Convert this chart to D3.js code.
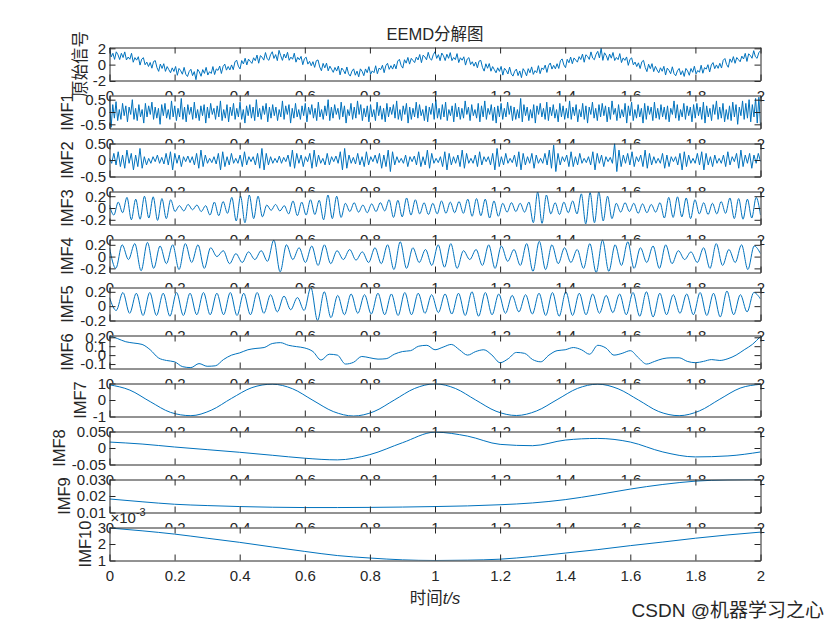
<!DOCTYPE html>
<html><head><meta charset="utf-8">
<script src="https://cdn.jsdelivr.net/npm/d3@7"></script>
<style>
body{margin:0;background:#fff}
svg{display:block}
text{font-family:"Liberation Sans",Arial,"Noto Sans CJK SC",sans-serif;fill:#262626}
</style></head>
<body><svg id="c" width="840" height="630"></svg>
<script>
// ---------------- data ----------------
const tMax = 2;
const xTicks = [0,0.2,0.4,0.6,0.8,1,1.2,1.4,1.6,1.8,2];
const titleText = "EEMD分解图";
const rowLabels = ["原始信号","IMF1","IMF2","IMF3","IMF4","IMF5","IMF6","IMF7","IMF8","IMF9","IMF10"];

const rawSignal = [
2.05,0.95,1.39,0.64,1.57,1.21,0.62,1.39,0.87,1.56,0.57,0.93,
0.66,1.39,0.29,0.86,0.55,0.97,-0.06,0.67,0.85,-0.02,0.31,-0.23,
0.26,-0.44,0.38,0.49,-0.37,-0.83,0.07,-0.47,0.11,-0.83,-0.24,-0.62,
-1.0,-0.4,-0.84,-0.23,-1.31,-0.47,-0.75,-1.18,-0.34,-1.18,-1.46,-0.85,
-0.57,-1.35,-0.86,-1.85,-0.58,-0.89,-1.43,-0.61,-1.08,-0.34,-1.28,-0.87,
-1.09,-0.24,-1.22,-0.53,-0.71,-0.18,-1.09,-0.23,0.06,-0.68,-0.23,-0.65,
-0.04,-0.62,0.33,0.55,-0.19,-0.53,0.5,0.08,0.78,-0.04,0.67,0.41,
0.15,0.84,0.48,1.17,0.17,1.1,0.91,0.55,1.48,0.72,0.53,1.21,
1.58,0.76,1.23,0.49,1.75,1.1,0.52,1.3,0.81,1.51,0.53,0.92,
0.66,1.4,0.3,0.89,0.59,1.01,-0.01,0.73,0.91,0.06,0.4,-0.14,
0.36,-0.34,0.48,0.57,-0.29,-0.75,0.15,-0.4,0.18,-0.76,-0.19,-0.57,
-0.95,-0.35,-0.79,-0.18,-1.26,-0.42,-0.7,-1.13,-0.29,-1.13,-1.41,-0.8,
-0.52,-1.3,-0.8,-1.5,-0.52,-0.82,-1.36,-0.53,-0.99,-0.25,-1.19,-0.77,
-0.99,-0.14,-1.12,-0.43,-0.61,-0.08,-0.99,-0.13,0.16,-0.58,-0.13,-0.55,
0.06,-0.52,0.43,0.65,-0.09,-0.43,0.6,0.18,0.88,0.06,0.77,0.51,
0.25,0.93,0.57,1.24,0.24,1.16,0.96,0.59,1.51,0.75,0.55,1.22,
1.58,0.76,1.22,0.48,1.42,1.08,0.5,1.27,0.77,1.47,0.49,0.87,
0.61,1.35,0.25,0.84,0.54,0.96,-0.06,0.68,0.86,0.01,0.35,-0.19,
0.31,-0.39,0.43,0.52,-0.34,-0.8,0.1,-0.45,0.13,-0.81,-0.24,-0.62,
-1.0,-0.39,-0.83,-0.22,-1.29,-0.45,-0.72,-1.15,-0.31,-1.14,-1.41,-0.81,
-0.55,-1.35,-0.78,-1.6,-0.5,-0.85,-1.38,-0.5,-1.0,-0.28,-1.2,-0.74,
-0.99,-0.13,-1.11,-0.42,-0.6,-0.06,-0.96,-0.1,0.2,-0.55,-0.09,-0.51,
0.11,-0.47,0.48,0.7,-0.04,-0.38,0.65,0.23,0.93,0.11,0.82,0.56,
0.3,0.98,0.62,1.29,0.29,1.21,1.01,0.64,1.56,0.8,0.6,1.27,
1.63,0.81,2.0,0.52,1.45,1.11,0.52,1.3,0.79,1.49,0.5,0.88,
0.61,1.35,0.25,0.82,0.52,0.94,-0.09,0.65,0.83,-0.03,0.31,-0.24,
0.22,-0.48,0.35,0.52,-0.35,-0.86,0.05,-0.5,0.12,-0.86,-0.22,-0.66,
-1.0,-0.39,-0.82,-0.21,-1.28,-0.43,-0.7,-1.12,-0.27,-1.1,-1.37,-0.76,
-0.47,-1.25,-0.75,-1.45,-0.47,-0.77,-1.31,-0.48,-0.94,-0.2,-1.14,-0.72,
-0.94,-0.08,-1.06,-0.37,-0.55,-0.01,-0.91,-0.05,0.25,-0.5,-0.04,-0.46,
0.16,-0.42,0.53,0.75,0.01,-0.33,0.7,0.28,0.98,0.16,0.87,0.61,
0.35,1.04,0.69,1.38,0.39,1.32,1.13,0.78,1.71,0.96,0.77,1.46,
1.7
];

const imf1 = [
0.45,-0.62,0.3,-0.25,0.42,-0.35,0.1,-0.3,0.35,-0.15,0.25,-0.4,0.2,-0.1,0.5,-0.3,0.15,-0.35,0.3,-0.2,
0.1,-0.45,0.35,-0.2,0.25,-0.1,0.4,-0.3,0.2,-0.25,0.15,-0.5,0.3,-0.15,0.35,-0.25,0.1,-0.3,0.45,-0.2,
0.25,-0.35,0.15,-0.2,0.55,-0.3,0.2,-0.4,0.3,-0.1,0.2,-0.3,0.4,-0.25,0.1,-0.35,0.25,-0.15,0.3,-0.45,
0.2,-0.25,0.35,-0.1,0.15,-0.3,0.25,-0.2,0.45,-0.35,0.1,-0.25,0.3,-0.4,0.2,-0.15,0.35,-0.3,0.15,-0.2,
0.4,-0.3,0.1,-0.45,0.25,-0.15,0.3,-0.25,0.2,-0.35,0.5,-0.2,0.15,-0.3,0.25,-0.1,0.35,-0.4,0.2,-0.25,
0.3,-0.15,0.2,-0.35,0.1,-0.2,0.45,-0.3,0.25,-0.1,0.3,-0.45,0.15,-0.25,0.35,-0.2,0.1,-0.3,0.25,-0.15,
0.35,-0.4,0.2,-0.1,0.3,-0.25,0.15,-0.35,0.4,-0.2,0.1,-0.3,0.25,-0.15,0.5,-0.35,0.2,-0.25,0.3,-0.1,
0.15,-0.3,0.4,-0.2,0.25,-0.45,0.1,-0.15,0.35,-0.3,0.2,-0.25,0.45,-0.1,0.3,-0.35,0.15,-0.2,0.25,-0.4,
0.3,-0.2,0.1,-0.35,0.4,-0.15,0.25,-0.3,0.15,-0.4,0.35,-0.2,0.2,-0.1,0.3,-0.25,0.45,-0.3,0.1,-0.35,
0.25,-0.1,0.35,-0.45,0.2,-0.3,0.15,-0.2,0.4,-0.25,0.3,-0.15,0.1,-0.35,0.25,-0.4,0.2,-0.1,0.35,-0.3,
0.5,-0.25,0.15,-0.3,0.3,-0.2,0.4,-0.35,0.1,-0.15,0.25,-0.4,0.35,-0.2,0.2,-0.3,0.15,-0.25,0.45,-0.1,
0.2,-0.35,0.3,-0.15,0.1,-0.25,0.35,-0.4,0.25,-0.2,0.45,-0.3,0.15,-0.1,0.3,-0.35,0.2,-0.45,0.25,-0.2,
0.35,-0.3,0.15,-0.2,0.4,-0.1,0.25,-0.35,0.2,-0.3,0.1,-0.25,0.55,-0.4,0.3,-0.15,0.2,-0.35,0.1,-0.25,
0.3,-0.45,0.25,-0.1,0.35,-0.2,0.15,-0.3,0.4,-0.35,0.2,-0.15,0.3,-0.25,0.1,-0.4,0.35,-0.2,0.25,-0.3,
0.15,-0.25,0.45,-0.3,0.2,-0.15,0.3,-0.4,0.1,-0.2,0.35,-0.3,0.25,-0.45,0.2,-0.1,0.4,-0.25,0.15,-0.35,
0.3,-0.2,0.35,-0.15,0.25,-0.4,0.2,-0.3,0.45,-0.1,0.15,-0.35,0.3,-0.25,0.1,-0.2,0.35,-0.45,0.25,-0.15,
0.4,-0.35,0.1,-0.25,0.3,-0.2,0.15,-0.45,0.35,-0.3,0.25,-0.1,0.2,-0.35,0.4,-0.25,0.15,-0.3,0.3,-0.2,
0.2,-0.3,0.25,-0.4,0.15,-0.1,0.45,-0.25,0.3,-0.35,0.1,-0.2,0.35,-0.3,0.25,-0.15,0.2,-0.4,0.3,-0.25,
0.35,-0.15,0.2,-0.3,0.4,-0.45,0.25,-0.2,0.15,-0.35,0.3,-0.1,0.45,-0.3,0.2,-0.25,0.35,-0.4,0.1,-0.3,
0.25,-0.35,0.4,-0.2,0.3,-0.5,0.2,-0.15,0.45,-0.3,0.35,-0.25,0.5,-0.4,0.3,-0.2,0.55,-0.45,0.6,-0.55
];

const imf2 = [
0.05,-0.1,0.2,-0.15,0.25,-0.2,0.15,-0.25,0.3,-0.1,0.2,-0.3,0.15,-0.2,0.35,-0.25,0.1,-0.15,0.05,-0.1,
0.1,-0.05,0.15,-0.1,0.08,-0.12,0.2,-0.15,0.25,-0.3,0.2,-0.1,0.15,-0.2,0.1,-0.05,0.12,-0.08,0.1,-0.15,
0.2,-0.25,0.3,-0.2,0.15,-0.1,0.05,-0.08,0.1,-0.12,0.2,-0.3,0.25,-0.2,0.1,-0.15,0.2,-0.1,0.05,-0.1,
0.15,-0.2,0.25,-0.15,0.1,-0.05,0.1,-0.15,0.2,-0.25,0.35,-0.3,0.2,-0.15,0.1,-0.1,0.05,-0.08,0.12,-0.1,
0.08,-0.05,0.15,-0.2,0.3,-0.25,0.2,-0.1,0.15,-0.2,0.1,-0.05,0.2,-0.25,0.3,-0.2,0.15,-0.1,0.05,-0.15,
0.2,-0.15,0.1,-0.05,0.12,-0.1,0.25,-0.3,0.35,-0.25,0.15,-0.1,0.08,-0.12,0.2,-0.15,0.1,-0.2,0.25,-0.15,
0.1,-0.05,0.15,-0.1,0.2,-0.25,0.15,-0.2,0.3,-0.35,0.25,-0.15,0.1,-0.08,0.05,-0.1,0.15,-0.2,0.1,-0.05,
0.12,-0.15,0.25,-0.2,0.1,-0.15,0.3,-0.25,0.2,-0.1,0.05,-0.08,0.1,-0.2,0.25,-0.3,0.2,-0.15,0.1,-0.1,
0.15,-0.2,0.3,-0.25,0.2,-0.1,0.05,-0.1,0.15,-0.2,0.25,-0.15,0.1,-0.05,0.1,-0.15,0.2,-0.3,0.35,-0.2,
0.1,-0.15,0.2,-0.1,0.05,-0.08,0.15,-0.2,0.25,-0.3,0.2,-0.15,0.1,-0.1,0.2,-0.25,0.15,-0.1,0.05,-0.1,
0.2,-0.15,0.3,-0.25,0.45,-0.35,0.2,-0.15,0.1,-0.05,0.15,-0.2,0.25,-0.2,0.1,-0.15,0.2,-0.1,0.05,-0.08,
0.1,-0.15,0.25,-0.3,0.2,-0.1,0.15,-0.2,0.1,-0.05,0.08,-0.1,0.5,-0.35,0.3,-0.2,0.15,-0.1,0.2,-0.15,
0.25,-0.2,0.1,-0.05,0.15,-0.2,0.3,-0.25,0.2,-0.15,0.1,-0.1,0.05,-0.1,0.2,-0.25,0.15,-0.2,0.1,-0.05,
0.1,-0.15,0.2,-0.3,0.25,-0.2,0.15,-0.1,0.05,-0.1,0.2,-0.15,0.25,-0.3,0.2,-0.15,0.1,-0.2,0.15,-0.1,
0.05,-0.1,0.15,-0.2,0.25,-0.15,0.1,-0.05,0.2,-0.25,0.3,-0.2,0.15,-0.1,0.2,-0.25,0.15,-0.1,0.2,-0.05
];

// IMF3-IMF5: successive extrema, evenly spaced over [0, 2]
const imf3 = [
0.05,-0.12,0.1,-0.08,
0.18,-0.2,0.15,-0.19,0.2,-0.17,0.19,-0.21,0.16,-0.18,0.14,
-0.06,0.04,-0.05,0.06,-0.03,0.05,-0.06,0.04,
-0.12,0.1,-0.13,0.11,-0.09,
0.18,-0.22,0.2,-0.25,0.22,-0.18,0.2,-0.15,
0.05,-0.04,0.06,-0.05,0.04,
-0.1,0.12,-0.13,0.1,-0.12,0.14,-0.11,0.13,
-0.2,0.22,-0.18,0.2,-0.16,
0.08,-0.06,0.09,-0.07,0.05,-0.08,0.07,-0.06,0.09,-0.05,
0.14,-0.16,0.13,-0.15,0.17,-0.12,0.14,
-0.1,0.09,-0.11,0.08,-0.1,0.12,-0.09,0.1,-0.08,0.11,-0.09,
0.15,-0.14,0.16,-0.13,0.15,-0.17,0.12,-0.14,
0.08,-0.07,0.09,-0.06,0.08,-0.07,0.1,
-0.25,0.27,-0.26,0.22,
-0.1,0.09,-0.11,0.1,-0.08,0.12,-0.1,
0.24,-0.27,0.26,-0.25,0.27,-0.22,0.2,-0.18,
0.08,-0.07,0.09,-0.06,0.08,-0.09,0.07,-0.08,0.06,-0.07,0.09,
-0.17,0.18,-0.16,0.19,-0.15,0.17,-0.18,0.14,
-0.1,0.09,-0.11,0.08,-0.1,0.11,-0.09,
0.17,-0.18,0.16,-0.19,0.15,-0.17,0.18,-0.12
];

const imf4 = [
0.15,-0.2,0.2,-0.05,0.22,-0.24,0.24,-0.2,0.18,-0.12,
0.2,-0.22,0.22,-0.1,0.2,-0.2,0.15,0.0,0.1,-0.12,
0.05,-0.1,0.08,-0.05,0.1,-0.08,0.28,-0.26,0.2,-0.05,
0.15,-0.1,0.18,-0.15,0.2,-0.12,0.1,-0.05,0.12,-0.06,
0.08,-0.1,0.15,-0.12,0.2,-0.22,0.25,-0.2,0.15,-0.1,
0.12,-0.15,0.2,-0.18,0.22,-0.2,0.1,-0.05,0.12,-0.15,
0.2,-0.2,0.18,-0.08,0.12,-0.15,0.22,-0.25,0.26,-0.22,
0.2,-0.12,0.15,-0.1,0.12,-0.2,0.22,-0.27,0.28,-0.25,
0.2,-0.15,0.25,-0.2,0.15,-0.1,0.18,-0.2,0.2,-0.12,
0.1,-0.05,0.08,-0.1,0.15,-0.2,0.22,-0.15,0.12,-0.1,
0.2,-0.22,0.18,0.05
];

const imf5 = [
0.12,-0.06,0.19,-0.1,0.18,-0.13,0.19,-0.13,0.18,-0.14,
0.19,-0.13,0.18,-0.12,0.19,-0.12,0.18,-0.12,0.19,-0.13,
0.18,-0.12,0.19,-0.1,0.16,-0.08,0.14,-0.05,0.12,-0.06,
0.26,-0.2,0.2,-0.16,0.15,-0.12,0.17,-0.1,0.16,-0.11,
0.18,-0.12,0.17,-0.13,0.19,-0.12,0.18,-0.1,0.16,-0.09,
0.17,-0.11,0.18,-0.13,0.2,-0.14,0.19,-0.12,0.17,-0.1,
0.15,-0.08,0.16,-0.11,0.18,-0.13,0.19,-0.14,0.2,-0.13,
0.18,-0.12,0.17,-0.1,0.15,-0.09,0.17,-0.12,0.19,-0.14,
0.2,-0.15,0.18,-0.12,0.16,-0.1,0.17,-0.12,0.19,-0.13,
0.18,-0.15,0.21,-0.12,0.16,-0.08,0.19,0.1
];

// IMF6 sampled every 0.025 s
const imf6 = [
0.22,0.185,0.15,0.135,0.12,0.06,-0.03,-0.06,-0.075,-0.13,
-0.14,-0.095,-0.125,-0.12,-0.05,0.0,0.025,0.06,0.075,0.085,
0.13,0.14,0.11,0.095,0.08,0.04,-0.055,0.01,0.0,-0.1,
-0.08,-0.015,-0.03,-0.045,-0.04,0.01,0.04,0.05,0.1,0.11,
0.06,0.09,0.12,0.06,0.0,0.04,0.06,0.0,-0.085,-0.04,
0.03,0.02,-0.05,-0.075,0.0,0.05,0.06,0.085,0.06,0.01,
0.11,0.08,0.0,0.02,0.05,-0.03,-0.1,-0.07,-0.04,-0.03,
-0.03,-0.07,-0.085,-0.07,-0.05,-0.06,-0.04,0.0,0.06,0.12,
0.21
];

// IMF7 sampled every 0.0625 s
const imf7 = [
0.92,0.6,-0.1,-0.75,-0.95,-0.62,0.1,0.75,0.96,0.68,
-0.02,-0.7,-0.97,-0.7,0.0,0.7,0.98,0.7,0.0,-0.68,
-0.94,-0.66,0.02,0.7,0.96,0.68,0.0,-0.7,-0.95,-0.66,
0.05,0.72,0.95
];

// IMF8-IMF10 sampled every 0.1 s
const imf8 = [0.018,0.012,0.003,-0.005,-0.013,-0.022,-0.031,-0.036,-0.02,0.016,
  0.048,0.036,0.011,0.007,0.024,0.029,0.018,-0.012,-0.027,-0.024,-0.012];
const imf9 = [0.0182,0.0165,0.015,0.0142,0.0136,0.0132,0.013,0.013,0.0131,0.0133,
  0.0136,0.014,0.0147,0.0158,0.0178,0.0208,0.0242,0.027,0.029,0.0298,0.03];
const imf10 = [0.00297,0.0028,0.0026,0.00235,0.0021,0.00182,0.00155,0.0013,0.00115,0.00104,
  0.001,0.00102,0.00108,0.00124,0.00145,0.00166,0.0019,0.00212,0.00235,0.00255,0.00272];

const yLimits = [[-1.95,2.1],[-0.67,0.67],[-0.5,0.5],[-0.28,0.28],[-0.27,0.29],[-0.2,0.26],
                 [-0.15,0.22],[-1,1],[-0.05,0.05],[0.01,0.03],[0.001,0.003]];
const yTicks = [[-2,0,2],[-0.5,0,0.5],[-0.5,0,0.5],[-0.2,0,0.2],[-0.2,0,0.2],[-0.2,0,0.2],
                [-0.1,0,0.1,0.2],[-1,0,1],[-0.05,0,0.05],[0.01,0.02,0.03],[0.001,0.002,0.003]];
const yExponent = [0,0,0,0,0,0,0,0,0,0,-3];
const series = [rawSignal,imf1,imf2,imf3,imf4,imf5,imf6,imf7,imf8,imf9,imf10];
const xLabelMain = "时间", xLabelItalic = "t/s";
const watermark = "CSDN @机器学习之心";

// ---------------- drawing ----------------
const svg = d3.select("#c");
svg.append("rect").attr("width",840).attr("height",630).attr("fill","#fff");
const L = 109.5, R = 760.5, T0 = 47.5, PITCH = 48, H = 33;
const AX = "#262626", LINE = "#0072BD";
const x = d3.scaleLinear().domain([0,tMax]).range([L,R]);
const fmt = (d,e) => String(+(d/Math.pow(10,e)).toFixed(6));
const smooth = [false,false,false,true,true,true,true,true,true,true,true];

series.forEach((vals,i)=>{
  const top = T0 + i*PITCH, bot = top + H;
  const y = d3.scaleLinear().domain(yLimits[i]).range([bot,top]);
  const g = svg.append("g");
  g.append("rect").attr("x",L).attr("y",top).attr("width",R-L).attr("height",H).attr("fill","#fff");
  const cid = "clip"+i;
  g.append("clipPath").attr("id",cid).append("rect").attr("x",L).attr("y",top).attr("width",R-L).attr("height",H);
  const n = vals.length;
  const line = d3.line().x((d,j)=>x(j*tMax/(n-1))).y(d=>y(d))
    .curve(smooth[i] ? d3.curveMonotoneX : d3.curveLinear);
  g.append("path").datum(vals).attr("d",line).attr("fill","none")
    .attr("stroke",LINE).attr("stroke-width",1).attr("clip-path",`url(#${cid})`);

  const e = yExponent[i];
  const styleAxis = sel => { sel.selectAll("path,line").attr("stroke",AX).attr("stroke-width",1);
    sel.selectAll("text").attr("fill",AX).attr("font-size",15)
       .attr("font-family",'"Liberation Sans",Arial,sans-serif'); };
  g.append("g").attr("transform",`translate(0,${bot})`)
    .call(d3.axisBottom(x).tickValues(xTicks).tickSize(-6).tickSizeOuter(0).tickPadding(10).tickFormat(d=>fmt(d,0)))
    .call(styleAxis);
  g.append("g").attr("transform",`translate(0,${top})`)
    .call(d3.axisTop(x).tickValues(xTicks).tickSize(-6).tickSizeOuter(0).tickFormat(""))
    .call(styleAxis);
  const yl = g.append("g").attr("transform",`translate(${L},0)`)
    .call(d3.axisLeft(y).tickValues(yTicks[i]).tickSize(-6).tickSizeOuter(0).tickPadding(3.5).tickFormat(d=>fmt(d,e)))
    .call(styleAxis);
  g.append("g").attr("transform",`translate(${R},0)`)
    .call(d3.axisRight(y).tickValues(yTicks[i]).tickSize(-6).tickSizeOuter(0).tickFormat(""))
    .call(styleAxis);
  g.selectAll(".domain").attr("fill","none");

  // y label placed left of the widest tick label
  let minX = Infinity;
  yl.selectAll("text").each(function(){ const b=this.getBBox(); minX=Math.min(minX, b.x + L); });
  g.append("text").attr("transform",`translate(${minX-7},${top+H/2}) rotate(-90)`)
    .attr("text-anchor","middle").attr("font-size",16.5).attr("fill",AX)
    .attr("font-family",'"Liberation Sans",Arial,"Noto Sans CJK SC",sans-serif')
    .text(rowLabels[i]);

  if (e !== 0) {
    const t = g.append("text").attr("x",L+1).attr("y",top-4.5).attr("font-size",15).attr("fill",AX);
    t.append("tspan").text("×10");
    t.append("tspan").attr("dy",-7).attr("font-size",11).text(String(e));
  }
});

// title
svg.append("text").attr("x",(L+R)/2).attr("y",39.5).attr("text-anchor","middle")
  .attr("font-size",16.5).attr("fill","#000").text(titleText);
// x label
const xl = svg.append("text").attr("x",(L+R)/2).attr("y",604).attr("text-anchor","middle")
  .attr("font-size",16.5).attr("fill",AX);
xl.append("tspan").attr("font-family",'"Noto Sans CJK SC",sans-serif').text(xLabelMain);
xl.append("tspan").attr("font-style","italic").text(xLabelItalic);
// watermark
svg.append("text").attr("x",824).attr("y",617).attr("text-anchor","end")
  .attr("font-size",19).attr("fill","#9c9c9c")
  .attr("font-family",'"Liberation Sans",Arial,"Noto Sans CJK SC",sans-serif').text(watermark);
</script>
</body></html>
